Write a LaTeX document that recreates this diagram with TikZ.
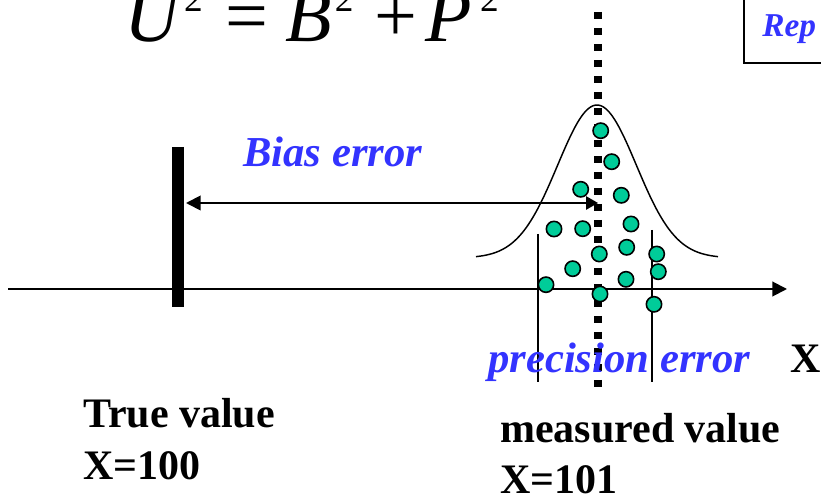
\documentclass[tikz,border=0pt]{standalone}
\usepackage{fontspec}
\setmainfont{Liberation Serif}
\usetikzlibrary{arrows.meta}
\definecolor{ErrBlue}{RGB}{51,51,255}
\definecolor{DotGreen}{RGB}{0,204,153}
\newcommand{\sqtwo}{\raisebox{23pt}{\fontsize{28}{28}\selectfont\upshape 2}}

\begin{document}
\begin{tikzpicture}[
    x=0.75pt, y=-0.75pt,
    every node/.style={inner sep=0pt, anchor=base west},
    label/.style={font=\fontsize{31.5}{36}\selectfont\bfseries},
    errlabel/.style={font=\fontsize{32}{36}\selectfont\bfseries\itshape, text=ErrBlue},
    axis/.style={line width=1.5pt, -{Triangle[length=11pt, width=11pt]}},
    biasarrow/.style={line width=1.4pt, {Triangle[length=11pt, width=11pt]}-{Triangle[length=9pt, width=10pt]}},
    dotline/.style={line width=6pt, dash pattern=on 5.25pt off 6.75pt},
    limit/.style={line width=1.1pt},
    dot/.style={circle, draw, line width=1.2pt, fill=DotGreen, minimum size=11.5pt, anchor=center}
  ]
    \useasboundingbox (0,0) rectangle (821,498);
    \clip (0,0) rectangle (821,498);

    % formula and the box at the top
    \node[font=\fontsize{57}{60}\selectfont\itshape] (formula) at (124,42)
      {U\hspace{3.75pt}\sqtwo\hspace{17pt}{\upshape =}\hspace{13pt}B\hspace{2pt}\sqtwo\hspace{16pt}{\upshape +}\hspace{6pt}P\hspace{6pt}\sqtwo};
    \draw[line width=1.5pt] (744,-5) rectangle (830,63);
    \node[font=\fontsize{25}{28}\selectfont\bfseries\itshape, text=ErrBlue] (rep) at (762,37) {Rep};

    % axis and true value
    \coordinate (axstart) at (8,289);
    \coordinate (axend) at (787,289);
    \draw[axis] (axstart) -- (axend);
    \coordinate (truetop) at (178,147);
    \coordinate (truebot) at (178,307);
    \draw[line width=8.5pt] (truetop) -- (truebot);

    % spread of the readings
    \draw[line width=1.1pt] plot[domain=476:718, samples=90, smooth] (\x, {258-153*exp(-((\x-597)^2)/3100)});
    \coordinate (lowtop) at (538,234);
    \coordinate (lowbot) at (538,382);
    \coordinate (hightop) at (652,230);
    \coordinate (highbot) at (652,382);
    \draw[limit] (lowtop) -- (lowbot);
    \draw[limit] (hightop) -- (highbot);

    % measured value
    \coordinate (meastop) at (597.5,12);
    \coordinate (measbot) at (597.5,387);
    \draw[dotline] (meastop) -- (measbot);
    \coordinate (biasr) at (598,203);
    \coordinate (biasl) at (186,203);
    \draw[biasarrow] (biasl) -- (biasr);

    \node[dot] (d1) at (600.7,130.7) {};
    \node[dot] (d2) at (611.7,161.7) {};
    \node[dot] (d3) at (580.7,189.3) {};
    \node[dot] (d4) at (621.3,195.3) {};
    \node[dot] (d5) at (631,224) {};
    \node[dot] (d6) at (554,229) {};
    \node[dot] (d7) at (582.7,228.7) {};
    \node[dot] (d8) at (599.3,254) {};
    \node[dot] (d9) at (626.7,247.3) {};
    \node[dot] (d10) at (656.7,254) {};
    \node[dot] (d11) at (572.7,268.7) {};
    \node[dot] (d12) at (658.3,271.7) {};
    \node[dot] (d13) at (626,279.3) {};
    \node[dot] (d14) at (546,284.7) {};
    \node[dot] (d15) at (600,294) {};
    \node[dot] (d16) at (654,304.3) {};

    % labels
    \node[errlabel] (bias) at (243,167) {Bias error};
    \node[errlabel] (precision) at (488,373) {precision error};
    \node[label] (xaxis) at (790,373) {X};
    \node[label] (truetext) at (83,428) {True value};
    \node[label] (trueval) at (83,480) {X=100};
    \node[label] (meastext) at (500,443) {measured value};
    \node[label] (measval) at (500,494) {X=101};
  \end{tikzpicture}
\end{document}
